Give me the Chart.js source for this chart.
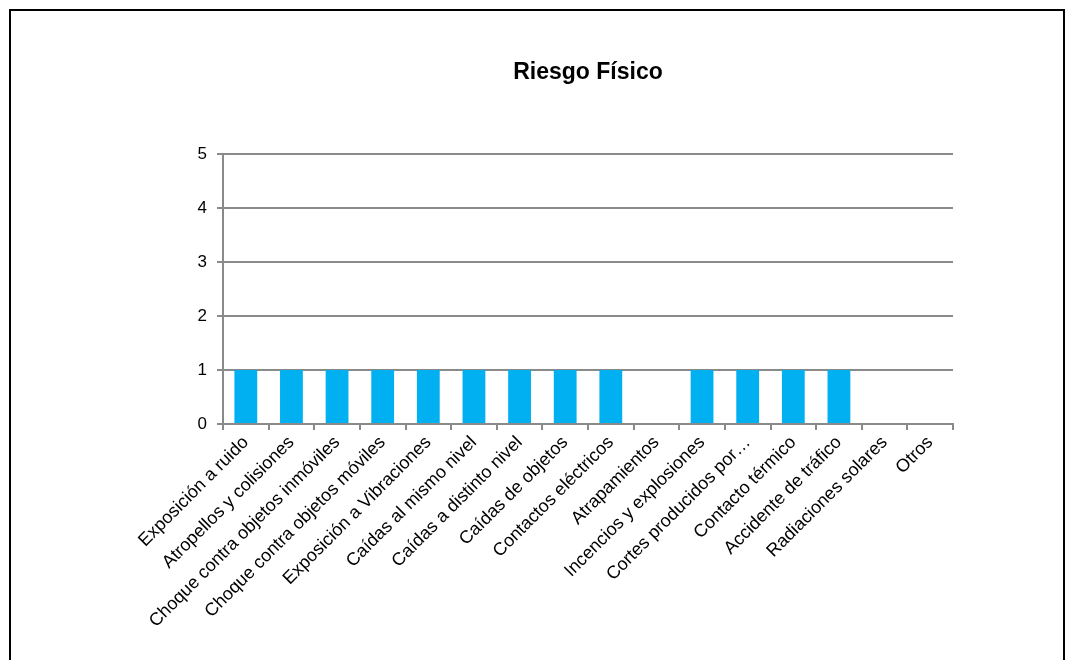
<!DOCTYPE html>
<html>
<head>
<meta charset="utf-8">
<script src="https://cdn.jsdelivr.net/npm/chart.js@4"></script>
<style>
  html, body { margin: 0; padding: 0; background: #fff; }
  #wrap { position: relative; width: 1074px; height: 660px; overflow: hidden; }
  #frame { position: absolute; left: 9px; top: 9px; width: 1052px; height: 700px; border: 2px solid #000; pointer-events: none; }
  canvas { position: absolute; left: 0; top: 0; }
</style>
</head>
<body>
<div id="wrap">
  <canvas id="c" width="1074" height="660"></canvas>
  <div id="frame"></div>
</div>
<script>
const categories = [
  "Exposición a ruido",
  "Atropellos y colisiones",
  "Choque contra objetos inmóviles",
  "Choque contra objetos móviles",
  "Exposición a Vibraciones",
  "Caídas al mismo nivel",
  "Caídas a distinto nivel",
  "Caídas de objetos",
  "Contactos eléctricos",
  "Atrapamientos",
  "Incencios y explosiones",
  "Cortes producidos por…",
  "Contacto térmico",
  "Accidente de tráfico",
  "Radiaciones solares",
  "Otros"
];
const values = [1, 1, 1, 1, 1, 1, 1, 1, 1, 0, 1, 1, 1, 1, 0, 0];
const yTicks = [0, 1, 2, 3, 4, 5];
const titleText = "Riesgo Físico";

const FONT = "'Liberation Sans', Arial, sans-serif";

const titlePlugin = {
  id: 'areaTitle',
  afterDraw(chart) {
    const ctx = chart.ctx;
    const a = chart.chartArea;
    ctx.save();
    ctx.font = "bold 23px " + FONT;
    ctx.fillStyle = "#000";
    ctx.textAlign = "center";
    ctx.textBaseline = "middle";
    ctx.fillText(titleText, (a.left + a.right) / 2, 73);
    ctx.restore();
  }
};

new Chart(document.getElementById('c'), {
  type: 'bar',
  data: {
    labels: categories,
    datasets: [{
      data: values,
      backgroundColor: '#00B0F0',
      borderWidth: 0,
      barPercentage: 0.5,
      categoryPercentage: 1.0
    }]
  },
  plugins: [titlePlugin],
  options: {
    responsive: false,
    animation: false,
    devicePixelRatio: 1,
    layout: { padding: { top: 154, right: 121, left: 0, bottom: 0 } },
    plugins: {
      legend: { display: false },
      tooltip: { enabled: false },
      title: { display: false }
    },
    scales: {
      x: {
        offset: true,
        grid: {
          offset: true,
          drawOnChartArea: false,
          drawTicks: true,
          tickLength: 6,
          color: '#8a8a8a',
          lineWidth: 2
        },
        border: { color: '#8a8a8a', width: 2 },
        ticks: {
          autoSkip: false,
          maxRotation: 45,
          minRotation: 45,
          padding: 2,
          color: '#000',
          font: { family: FONT, size: 18 }
        },
        afterFit(scale) { scale.height = 236; }
      },
      y: {
        min: 0,
        max: 5,
        afterBuildTicks(scale) { scale.ticks = yTicks.map(v => ({ value: v })); },
        grid: {
          color: '#8a8a8a',
          lineWidth: 2,
          tickLength: 6
        },
        border: { color: '#8a8a8a', width: 2 },
        ticks: {
          padding: 10,
          color: '#000',
          font: { family: FONT, size: 17 }
        },
        afterFit(scale) { scale.width = 223; }
      }
    }
  }
});
</script>
</body>
</html>
